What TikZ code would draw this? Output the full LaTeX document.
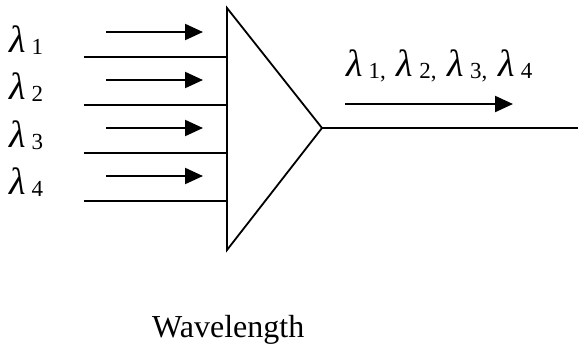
\documentclass[tikz,border=0pt]{standalone}
\usepackage{fontspec}
\setmainfont{Liberation Serif}
\usetikzlibrary{arrows.meta}
\newcommand{\lam}[1]{{\fontsize{38}{40}\selectfont\itshape λ}\hspace{6pt}\raisebox{-2pt}{\fontsize{23}{24}\selectfont #1}}
\tikzset{
  lbl/.style={font=\fontsize{32}{36}\selectfont, inner sep=0pt, anchor=base west},
  fibre/.style={line width=1.8pt},
  flow/.style={line width=2.2pt, -{Triangle[length=18pt,width=16pt]}}
}

\begin{document}
\begin{tikzpicture}[x=1pt,y=-1pt]
\useasboundingbox (0,0) rectangle (578,349);
% Multiplexer
\coordinate (top) at (227,8);
\coordinate (bot) at (227,250);
\coordinate (apex) at (322,128);
\draw[fibre] (top) -- (apex) -- (bot) -- cycle;
% Input channels
\foreach \i in {1,...,4} {
  \pgfmathsetmacro{\ya}{32+48*(\i-1)}
  \pgfmathsetmacro{\yl}{57+48*(\i-1)}
  \pgfmathsetmacro{\yt}{52+47.5*(\i-1)}
  \node[lbl] (lam\i) at (9,\yt) {\lam{\i}};
  \coordinate (in\i) at (84,\yl);
  \coordinate (edge\i) at (227,\yl);
  \coordinate (a\i) at (106,\ya);
  \coordinate (b\i) at (203,\ya);
  \draw[fibre] (in\i) -- (edge\i);
  \draw[flow] (a\i) -- (b\i);
}
% Output
\coordinate (out) at (578,128);
\draw[fibre] (apex) -- (out);
\coordinate (oa) at (345,104);
\coordinate (ob) at (513,104);
\draw[flow] (oa) -- (ob);
\node[lbl] (outlam) at (346,76) {\lam{1,}\hspace{11pt}\lam{2,}\hspace{11pt}\lam{3,}\hspace{11pt}\lam{4}};
\node[lbl] (title) at (152,337) {Wavelength};
\end{tikzpicture}
\end{document}
